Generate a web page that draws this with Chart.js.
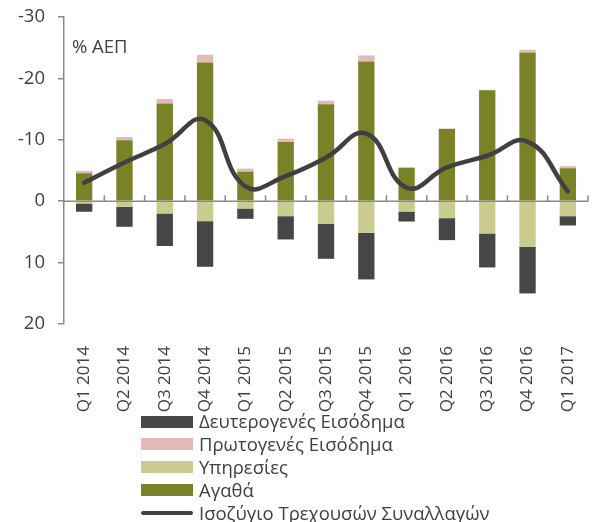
<!DOCTYPE html>
<html>
<head>
<meta charset="utf-8">
<script src="https://cdn.jsdelivr.net/npm/chart.js@4.4.1/dist/chart.umd.min.js"></script>
<style>
  html, body { margin: 0; padding: 0; background: #ffffff; }
  #wrap { position: relative; width: 596px; height: 522px; overflow: hidden; }
  #legend { position: absolute; left: 141px; top: 410px; font-family: "Open Sans", sans-serif; font-size: 18.5px; color: #404040; }
  .row { position: relative; height: 22.9px; }
  .sw { position: absolute; left: 0; width: 52px; height: 12px; top: 5.5px; }
  .ln { position: absolute; left: 0; width: 52px; height: 4px; top: 9.5px; border-radius: 2px; }
  .tx { position: absolute; left: 58px; top: -3px; white-space: nowrap; line-height: 28px; }
</style>
</head>
<body>
<div id="wrap">
  <canvas id="c" width="596" height="522"></canvas>
  <div id="legend"></div>
</div>
<script>
const categories = ['Q1 2014','Q2 2014','Q3 2014','Q4 2014','Q1 2015','Q2 2015','Q3 2015','Q4 2015','Q1 2016','Q2 2016','Q3 2016','Q4 2016','Q1 2017'];
const goods = [-4.55,-9.92,-15.9,-22.6,-4.82,-9.65,-15.77,-22.76,-5.47,-11.76,-18.05,-24.23,-5.37];
const services = [0.37,0.92,2.0,3.25,1.19,2.44,3.69,5.15,1.68,2.76,5.26,7.43,2.44];
const primaryIncome = [-0.38,-0.54,-0.76,-1.25,-0.49,-0.54,-0.6,-0.98,0,-0.1,-0.1,-0.43,-0.33];
const secondaryIncome = [1.35,3.25,5.3,7.43,1.68,3.79,5.69,7.59,1.63,3.58,5.53,7.59,1.52];
const currentAccount = [-3.0,-6.3,-9.3,-13.2,-2.4,-4.1,-7.1,-11.0,-2.2,-5.5,-7.4,-9.7,-1.6];
const yTicks = [-30,-20,-10,0,10,20];
const unitLabel = '% ΑΕΠ';

const FONT = '"Open Sans", sans-serif';
const TXT = '#404040';
const AXIS = '#8a8a8a';

const colors = {
  secondary: '#464646',
  primary: '#e6b8b7',
  services: '#cacb8e',
  goods: '#7a8228',
  line: '#404040'
};

const bar = (label, data, color) => ({
  type: 'bar', label, data, backgroundColor: color, borderWidth: 0,
  stack: 'bars', barPercentage: 0.405, categoryPercentage: 1, order: 1
});

const datasets = [
  bar('Αγαθά', goods, colors.goods),
  bar('Υπηρεσίες', services, colors.services),
  bar('Πρωτογενές Εισόδημα', primaryIncome, colors.primary),
  bar('Δευτερογενές Εισόδημα', secondaryIncome, colors.secondary),
  {
    type: 'line', label: 'Ισοζύγιο Τρεχουσών Συναλλαγών', data: currentAccount,
    borderColor: colors.line, borderWidth: 4.5, pointRadius: 0, tension: 0.45,
    stack: 'line', order: 0, fill: false, borderCapStyle: 'round'
  }
];

const axisPlugin = {
  id: 'zeroAxis',
  afterDatasetsDraw(chart) {
    const {ctx, chartArea, scales} = chart;
    const x = scales.x, y = scales.y;
    const y0 = y.getPixelForValue(0);
    ctx.save();
    ctx.strokeStyle = AXIS;
    ctx.lineWidth = 1.5;
    ctx.beginPath();
    ctx.moveTo(chartArea.left, y0);
    ctx.lineTo(chartArea.right, y0);
    const n = categories.length;
    for (let i = 1; i <= n; i++) {
      const xp = i < n ? (x.getPixelForValue(i - 1) + x.getPixelForValue(i)) / 2 : chartArea.right;
      ctx.moveTo(xp, y0);
      ctx.lineTo(xp, y0 - 6);
    }
    ctx.stroke();
    ctx.fillStyle = TXT;
    ctx.font = '18.5px ' + FONT;
    ctx.textBaseline = 'alphabetic';
    ctx.textAlign = 'left';
    ctx.fillText(unitLabel, 72, 53.3);
    ctx.restore();
  }
};

const chart = new Chart(document.getElementById('c'), {
  data: { labels: categories, datasets },
  plugins: [axisPlugin],
  options: {
    responsive: false,
    animation: false,
    devicePixelRatio: 1,
    layout: { autoPadding: false, padding: { top: 17, right: 8, bottom: 0, left: 0 } },
    plugins: { legend: { display: false }, tooltip: { enabled: false } },
    scales: {
      x: {
        stacked: true,
        grid: { display: false },
        border: { display: false },
        afterFit(scale) { scale.height = 198; scale.paddingLeft = 0; scale.paddingRight = 0; },
        ticks: {
          minRotation: 90, maxRotation: 90, padding: 14, autoSkip: false,
          color: TXT, font: { family: FONT, size: 17 }
        }
      },
      y: {
        stacked: true,
        reverse: true,
        min: -30, max: 20,
        afterBuildTicks(scale) { scale.ticks = yTicks.map(v => ({ value: v })); },
        afterFit(scale) { scale.width = 64; scale.paddingTop = 0; scale.paddingBottom = 0; },
        grid: { drawOnChartArea: false, drawTicks: true, tickLength: 6, color: AXIS, lineWidth: 1.5 },
        border: { display: true, color: AXIS, width: 1.5 },
        ticks: { padding: 13, color: TXT, font: { family: FONT, size: 18.5 } }
      }
    }
  }
});

// HTML legend built from datasets, in the reference order
const legendOrder = [3, 2, 1, 0, 4];
const lg = document.getElementById('legend');
legendOrder.forEach(i => {
  const ds = datasets[i];
  const row = document.createElement('div');
  row.className = 'row';
  const sw = document.createElement('div');
  if (ds.type === 'line') { sw.className = 'ln'; sw.style.background = ds.borderColor; }
  else { sw.className = 'sw'; sw.style.background = ds.backgroundColor; }
  const tx = document.createElement('div');
  tx.className = 'tx';
  tx.textContent = ds.label;
  row.appendChild(sw); row.appendChild(tx);
  lg.appendChild(row);
});
</script>
</body>
</html>
